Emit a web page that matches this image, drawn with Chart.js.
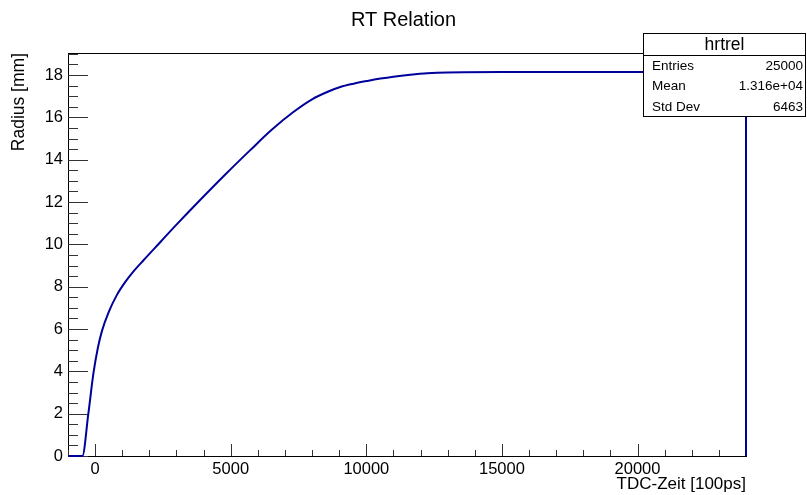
<!DOCTYPE html>
<html>
<head>
<meta charset="utf-8">
<title>RT Relation</title>
<script src="https://cdn.jsdelivr.net/npm/chart.js@4.4.1/dist/chart.umd.min.js"></script>
<style>
  html, body { margin: 0; padding: 0; background: #fff; }
</style>
</head>
<body>
<canvas id="rt" width="807" height="495"></canvas>
<script>
// drift time [100ps] against drift radius [mm]
const tdcTime = [-1000, -470, -250, -63, 100, 250, 500, 800, 1100, 1400, 1785, 2400, 3000, 3800, 4800,
  5720, 6500, 7310, 8000, 8600, 9040, 9500, 10040, 10520, 11000, 11620, 12250, 13000, 15000, 20000, 24000];
const radius = [0, 0, 2.0, 3.9, 5.1, 5.9, 6.8, 7.6, 8.2, 8.7, 9.25, 10.1, 10.93, 12.0, 13.3,
  14.45, 15.4, 16.25, 16.85, 17.22, 17.43, 17.58, 17.72, 17.83, 17.92, 18.01, 18.08, 18.12, 18.14, 18.14, 18.14];

// last bin falls back to zero at the histogram edge
const edgeTime = [24000, 24000];
const edgeRadius = [18.14, 0];

const xTicks = [0, 5000, 10000, 15000, 20000];
const yTicks = [0, 2, 4, 6, 8, 10, 12, 14, 16, 18];

const statsTitle = 'hrtrel';
const statsNames = ['Entries', 'Mean', 'Std Dev'];
const statsValues = ['25000', '1.316e+04', '6463'];

const FONT = '"Liberation Sans", Arial, Helvetica, sans-serif';
const LINE = '#00009a';

const toPoints = (xs, ys) => xs.map((x, i) => ({ x: x, y: ys[i] }));

// frame with inward ticks, like a ROOT canvas
const framePlugin = {
  id: 'frame',
  beforeDatasetsDraw(chart) {
    const { ctx, chartArea: a } = chart;
    const xs = chart.scales.x;
    const ys = chart.scales.y;
    ctx.save();
    ctx.strokeStyle = '#000';
    ctx.lineWidth = 1;
    ctx.strokeRect(Math.round(a.left) + 0.5, Math.round(a.top) + 0.5,
      Math.round(a.right - a.left), Math.round(a.bottom - a.top));

    ctx.strokeStyle = '#333';
    ctx.beginPath();
    // x axis: major every 5000, minor every 1000
    for (let v = xs.min; v <= xs.max; v += 1000) {
      const px = Math.round(xs.getPixelForValue(v)) + 0.5;
      const len = xTicks.includes(v) ? 12 : 6;
      ctx.moveTo(px, a.bottom);
      ctx.lineTo(px, a.bottom - len);
    }
    // y axis: major every 2, minor every 0.5
    for (let v = 0; v <= ys.max; v += 0.5) {
      const py = Math.round(ys.getPixelForValue(v)) + 0.5;
      const len = yTicks.includes(v) ? 20 : 10;
      ctx.moveTo(a.left, py);
      ctx.lineTo(a.left + len, py);
    }
    ctx.stroke();
    ctx.restore();
  },
  afterDraw(chart) {
    // statistics box in the upper right corner
    const { ctx } = chart;
    const left = 643, top = 33, right = 806, bottom = 117;
    ctx.save();
    ctx.fillStyle = '#fff';
    ctx.fillRect(left, top, right - left, bottom - top);
    ctx.strokeStyle = '#000';
    ctx.lineWidth = 1;
    ctx.strokeRect(left + 0.5, top + 0.5, right - left - 1, bottom - top - 1);
    ctx.beginPath();
    ctx.moveTo(left, 55.5);
    ctx.lineTo(right, 55.5);
    ctx.stroke();

    ctx.fillStyle = '#000';
    ctx.textBaseline = 'middle';
    ctx.textAlign = 'center';
    ctx.font = '17.5px ' + FONT;
    ctx.fillText(statsTitle, (left + right) / 2, 45);
    ctx.font = '13.5px ' + FONT;
    statsNames.forEach((name, i) => {
      const y = 66 + i * 20.5;
      ctx.textAlign = 'left';
      ctx.fillText(name, left + 9, y);
      ctx.textAlign = 'right';
      ctx.fillText(statsValues[i], right - 3, y);
    });
    ctx.restore();
  }
};

const ctx = document.getElementById('rt').getContext('2d');
new Chart(ctx, {
  type: 'scatter',
  data: {
    datasets: [
      {
        data: toPoints(tdcTime, radius),
        showLine: true,
        borderColor: LINE,
        borderWidth: 2,
        pointRadius: 0,
        clip: 2,
        cubicInterpolationMode: 'monotone',
      },
      {
        data: toPoints(edgeTime, edgeRadius),
        showLine: true,
        borderColor: LINE,
        borderWidth: 2,
        pointRadius: 0,
        clip: 2,
        tension: 0,
      },
    ],
  },
  options: {
    responsive: false,
    animation: false,
    events: [],
    layout: { padding: 0 },
    plugins: {
      legend: { display: false },
      tooltip: { enabled: false },
      title: {
        display: true,
        text: 'RT Relation',
        color: '#000',
        font: { family: FONT, size: 20, weight: 'normal' },
        padding: { top: 8, bottom: 21 },
      },
    },
    scales: {
      x: {
        type: 'linear',
        min: -1000,
        max: 24000,
        afterBuildTicks: s => { s.ticks = xTicks.map(v => ({ value: v })); },
        afterFit: s => { s.height = 39; },
        grid: { display: false, drawTicks: false },
        border: { display: false },
        ticks: {
          color: '#000',
          font: { family: FONT, size: 16.5 },
          padding: 4,
          maxRotation: 0,
          autoSkip: false,
          callback: v => String(v),
        },
        title: {
          display: true,
          text: 'TDC-Zeit [100ps]',
          align: 'end',
          color: '#000',
          font: { family: FONT, size: 17 },
          padding: { top: 0, bottom: 0 },
        },
      },
      y: {
        min: 0,
        max: 19.04,
        afterBuildTicks: s => { s.ticks = yTicks.map(v => ({ value: v })); },
        afterFit: s => { s.width = 68; },
        grid: { display: false, drawTicks: false },
        border: { display: false },
        ticks: {
          color: '#000',
          font: { family: FONT, size: 16.5 },
          padding: 5,
          callback: v => String(v),
        },
        title: {
          display: true,
          text: 'Radius [mm]',
          align: 'end',
          color: '#000',
          font: { family: FONT, size: 17.5 },
          padding: { top: 9, bottom: 0 },
        },
      },
      // empty right-hand margin so the title stays centred on the canvas
      y2: {
        position: 'right',
        display: true,
        grid: { display: false, drawTicks: false },
        border: { display: false },
        ticks: { display: false },
        afterFit: s => { s.width = 61; },
      },
    },
  },
  plugins: [framePlugin],
});
</script>
</body>
</html>
